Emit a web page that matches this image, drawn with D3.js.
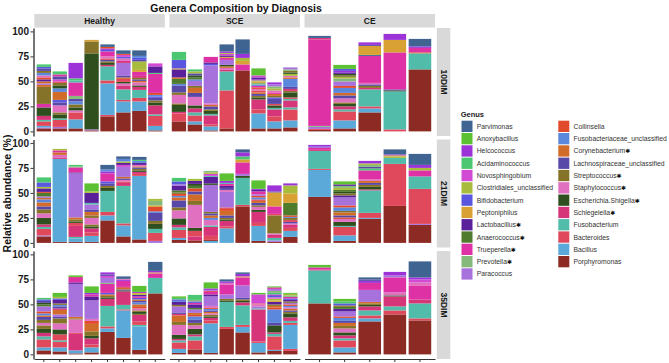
<!DOCTYPE html>
<html>
<head>
<meta charset="utf-8">
<script src="https://cdn.jsdelivr.net/npm/d3@7"></script>
<style>
body { margin: 0; background: #fff; }
text { font-family: "Liberation Sans", Arial, sans-serif; }
</style>
</head>
<body>
<div id="chart"></div>
<script>
// Genus keys, legend labels and fills (legend order = stack order top to bottom)
const genusKeys = ['Parv','Anox','Helc','Acid','Novo','Clos','Bifi','Pept','Lact','Anae','True','Prev','Para',
    'Coll','Fuun','Cory','Lach','Stre','Stap','Esch','Schl','Fuso','Bact','Bacl','Porp'];
const genusLabels = ['Parvimonas','Anoxybacillus','Helcococcus','Acidaminococcus','Novosphingobium',
    'Clostridiales_unclassified','Bifidobacterium','Peptoniphilus','Lactobacillus*','Anaerococcus*',
    'Trueperella*','Prevotella*','Paracoccus','Collinsella','Fusobacteriaceae_unclassified',
    'Corynebacterium*','Lachnospiraceae_unclassified','Streptococcus*','Staphylococcus*',
    'Escherichia.Shigella*','Schlegelella*','Fusobacterium','Bacteroides','Bacillus','Porphyromonas'];
const genusColors = ['#3f6491','#5cc033','#9b33d9','#4cc771','#d24ad3','#a9bb3c','#5b56e0','#d9a133',
    '#5a1f9b','#4f7b2d','#df31a6','#84b97a','#a872dc','#e14b2b','#5b87dc','#d06b29','#5849a8',
    '#857329','#e071c1','#2f4f1f','#d73579','#51bcaa','#e0495b','#5aa9d9','#8c2b23'];

const diagnoses = ['Healthy', 'SCE', 'CE'];
const timepoints = ['10DIM', '21DIM', '35DIM'];

// Each bar: list of [genus, relative abundance %], bottom to top
const healthy10 = [
    [['Porp',3],['Para',1],['Bacl',1.5],['Bact',4.5],['Fuso',1.5],['Schl',4],['Esch',8.5],['True',3.5],['Stre',17],['Cory',2],['Para',1.5],['Cory',2],['Lact',2],['Coll',2],['Stap',2],['Fuun',2.5],['Stre',2],['Lach',2.5],['Bifi',1.5],['Acid',2.5]],
    [['Porp',3],['Para',1.5],['Bact',7],['Fuso',1.5],['Esch',4],['Stre',2],['Stap',7],['Lach',3],['Bifi',2.5],['Cory',8],['Fuun',3.5],['Esch',3],['Stre',2.5],['Bact',1.5],['Novo',2],['Lach',3],['True',2],['Acid',3]],
    [['Porp',3],['Bacl',9],['Bact',7],['Stap',2],['Esch',3],['Stre',3],['Fuun',3],['Lach',2.5],['Prev',3],['True',13.5],['Fuso',2],['Acid',2],['Helc',15.5]],
    [['Porp',1],['Para',1],['Esch',76],['Stre',12],['Pept',1.5]],
    [['Porp',15],['Bact',1.5],['Bacl',31.5],['Bact',3],['Fuso',14],['Schl',1.5],['Esch',2],['Stre',1.5],['Lach',1.5],['Bact',1.5],['Stap',2],['True',5],['Bifi',1.5],['Helc',1.5],['Coll',1.5],['Parv',2.5]],
    [['Porp',19],['Bacl',11],['Bact',1.5],['Fuso',10.5],['Schl',4],['Stap',2],['Esch',1.5],['Bact',3],['Cory',1.5],['Lach',1.5],['Para',13],['Schl',2],['Stap',2.5],['Bifi',1.5],['Novo',2],['Coll',1],['Parv',3.5]],
    [['Porp',20.5],['Bacl',9.5],['Bact',3.5],['Fuso',8],['Schl',3],['Esch',1.5],['Stap',3],['Cory',1.5],['Lach',1.5],['Stre',1.5],['Schl',2],['True',4],['Pept',2],['Clos',8.5],['Lach',1.5],['Bifi',2],['Fuun',2],['Parv',5.5]],
    [['Porp',1],['Bacl',4.5],['Bact',10],['Fuso',1.5],['Schl',9],['Esch',3],['Stre',2],['Lach',2.5],['Bifi',1.5],['Fuun',1.5],['Coll',2],['True',19],['Acid',1],['Lact',6.5],['Novo',3]]
];
const sce10 = [
    [['Porp',10],['Bact',8],['Schl',1.5],['Esch',7],['Stre',1.5],['Stap',8.5],['Stre',2.5],['Lach',7],['Fuun',1.5],['Anae',5],['Cory',1.5],['Lact',8],['Pept',1],['Bifi',8.5],['Acid',8]],
    [['Porp',7],['Bacl',3],['Bact',6],['Fuso',3],['Schl',4],['Esch',3],['Stap',8.5],['Lach',4],['Cory',5],['Stre',2],['Para',5],['Fuun',1.5],['Anae',2],['Esch',2],['Lach',2],['Clos',2],['Acid',2]],
    [['Porp',1],['Bacl',4],['Bact',2],['Schl',9],['Fuso',1.5],['Esch',3],['Stre',1.5],['Lach',3],['Cory',1.5],['Stap',1.5],['Para',38],['Bifi',1.5],['Lact',1.5],['True',5.5]],
    [['Porp',3],['Bact',38],['Fuso',19],['Schl',1.5],['Stap',2],['Cory',1.5],['Esch',1.5],['Para',5],['True',2],['Pept',1],['Lact',1.5],['Novo',1.5],['Clos',1],['Helc',1.5],['Parv',7]],
    [['Porp',61],['True',6],['Pept',3.5],['Clos',3],['Helc',4],['Parv',14.5]],
    [['Porp',3],['Bacl',15],['Bact',4],['Schl',10],['Esch',2],['Stre',1.5],['Lach',2],['Cory',1.5],['Bact',2],['Stap',1.5],['Coll',1.5],['True',1.5],['Fuun',1.5],['Prev',1.5],['Pept',1.5],['Clos',1],['Helc',1],['Lact',2],['Novo',2],['Anox',7]],
    [['Porp',3],['Bacl',7],['Bact',5],['Schl',7],['Fuso',1.5],['Esch',2.5],['Bact',1.5],['Lach',5],['Bifi',1.5],['Stre',1.5],['Cory',2],['True',1.5],['Stap',2],['Clos',2],['Prev',2],['Para',2],['Helc',2]],
    [['Porp',4],['Bacl',7],['Bact',11],['Fuso',2],['Schl',7],['Fuso',1.5],['Bact',1.5],['Esch',5],['Stre',1.5],['Schl',2],['Lach',2],['Fuun',8],['Cory',1.5],['Stap',1.5],['Clos',2],['Esch',1.5],['Stre',1.5],['Prev',1.5],['Para',2]]
];
const ce10 = [
    [['Porp',1.5],['Bact',1],['Para',2],['Prev',1],['True',86.5],['Schl',1.5],['Parv',2]],
    [['Porp',3],['Bacl',8],['Bact',9],['Fuso',2],['Schl',3],['Esch',2.5],['Stre',1.5],['Stap',4],['Lach',3],['Cory',2.5],['Fuun',5],['Coll',2],['Para',4.5],['Prev',3],['Clos',1.5],['Stre',1.5],['Esch',1.5],['Lact',1.5],['Helc',1.5],['Bifi',2],['Anox',4]],
    [['Porp',19],['Bacl',4],['Bact',2],['Fuso',17],['Schl',1.5],['Stre',2],['Lach',1.5],['Stap',1.5],['True',27],['Parv',1],['Pept',9],['Lach',1],['Helc',2.5]],
    [['Bact',2],['Fuso',38],['Esch',1],['Lach',1],['True',37],['Pept',12.5],['Helc',6]],
    [['Porp',62],['Fuso',16],['Cory',1],['True',4.5],['Helc',1.5],['Parv',7.5]]
];
const healthy21 = [
    [['Porp',6.5],['Para',1],['Bact',6.5],['Fuso',2],['Schl',2.5],['Esch',6.5],['Stap',4.5],['Stre',4],['Lach',3],['Cory',4],['Fuun',3],['Cory',1.5],['Para',1.5],['Anae',3.5],['Coll',1],['Lact',3.5],['Clos',1.5],['Bifi',4.5],['Acid',5]],
    [['Porp',1],['Bacl',83],['Schl',1.5],['Stap',2.5],['Cory',2.5],['True',2],['Clos',1.5]],
    [['Porp',1],['Bacl',3.5],['Fuso',1.5],['Schl',11],['Bact',3],['Esch',1.5],['Stre',2],['Cory',2],['Para',44],['Lact',1],['True',5],['Prev',1],['Acid',1.5]],
    [['Porp',1],['Bacl',6],['Bact',3.5],['Schl',4],['Esch',2],['Stre',2],['Stap',6.5],['Stre',2.5],['Cory',3.5],['Lach',2.5],['Para',5],['Fuso',1.5],['Lact',10],['Clos',1.5],['Anox',8]],
    [['Porp',22.5],['Bacl',5],['Bact',3.5],['Fuso',21],['Esch',3],['Stre',2],['Lach',2.5],['Bifi',2],['True',8],['Helc',2],['Fuun',2],['Parv',4.5]],
    [['Porp',6.5],['Bacl',11],['Bact',2],['Fuso',37.5],['Schl',3],['Bact',1.5],['Stap',1.5],['Lach',1.5],['Cory',1.5],['Para',10],['Novo',2],['Lact',2],['Clos',1.5],['Fuun',2.5],['Parv',2.5]],
    [['Porp',3.5],['Bacl',63.5],['Bact',2],['Schl',2],['Esch',1.5],['Stre',1.5],['Lach',1.5],['Cory',1],['Stap',1.5],['Lact',2],['Fuun',2],['Acid',1],['Parv',3]],
    [['Para',2],['Bact',8],['Fuso',4],['Esch',5],['Stre',3],['Lach',8],['Fuun',1.5],['Coll',4.5],['Pept',1.5],['Prev',4.5],['Clos',2]]
];
const sce21 = [
    [['Porp',3],['Bacl',2],['Bact',8],['Fuso',2.5],['Schl',2.5],['Esch',6.5],['Stap',8],['Stre',3],['Lach',7],['Cory',3],['Fuun',1.5],['Coll',2],['Stre',1.5],['Anae',2],['Lact',4.5],['Para',1.5],['Bifi',3],['Acid',3.5]],
    [['Porp',2.5],['Schl',4],['Bact',5.5],['Esch',3],['Stap',23],['Stre',4],['Cory',6.5],['Lach',3],['Coll',3],['Anae',2.5],['Esch',2],['Lact',3],['Clos',2]],
    [['Bacl',2],['Porp',1],['Bact',4],['Schl',9],['Fuso',1.5],['Stap',5.5],['Fuun',2],['Cory',2.5],['Lach',2],['Stre',1.5],['Para',27],['Esch',1.5],['Lact',6.5],['Fuso',1],['Novo',2],['Clos',1.5],['Prev',1.5]],
    [['Bacl',14.5],['Bact',2],['Schl',5.5],['Esch',1.5],['Stre',1.5],['Lach',2.5],['Cory',4.5],['Coll',2],['Bact',1.5],['Para',15.5],['Stap',2],['Lach',2],['Lact',2],['True',2],['Fuso',1],['Helc',2],['Anox',7.5]],
    [['Porp',36.5],['Bact',1.5],['Fuso',27],['Esch',2],['Para',2],['True',11.5],['Pept',3],['Acid',3],['Helc',4],['Parv',3]],
    [['Porp',2],['Bacl',15],['Bact',3],['Schl',11],['Esch',2],['Stap',3],['Stre',1.5],['Lach',2.5],['Cory',2],['Bact',1.5],['Fuun',2],['Coll',1.5],['Para',1.5],['True',3],['Lact',1.5],['Helc',1],['Anox',8.5]],
    [['Porp',1],['Para',1.5],['Fuso',2.5],['Schl',3],['Stap',1.5],['Stre',18],['Bact',1.5],['True',7.5],['Pept',14],['Lach',1],['Helc',6]],
    [['Porp',6],['Bacl',6],['Bact',3],['Schl',3],['Stap',1.5],['Lach',1.5],['Bact',2],['Stre',2],['Fuun',1],['Coll',1.5],['Anae',12.5],['Pept',9.5],['Clos',8],['Helc',2]]
];
const ce21 = [
    [['Porp',46],['Bacl',27],['Bact',1],['Fuso',18],['Schl',1],['True',2.5],['Bifi',1],['Helc',1.5]],
    [['Porp',2],['Bacl',5.5],['Bact',8.5],['Fuso',1],['Esch',4],['Stap',3],['Coll',1.5],['Lach',2],['Cory',3],['Stre',1.5],['Fuun',3.5],['Coll',2],['Para',8],['Lact',2],['Stre',2],['Esch',1.5],['Anae',2],['Clos',2],['Prev',2],['Lact',1.5],['Anox',3]],
    [['Porp',24],['Bacl',1],['Bact',5],['Fuso',22.5],['Schl',1],['Esch',2.5],['Stre',2],['Lach',2],['Cory',2],['Stap',1.5],['True',9],['Acid',2],['Lach',1.5],['Prev',2],['Clos',1.5],['Helc',2.5]],
    [['Porp',37],['Bact',42],['Fuso',6],['Clos',1.5],['Pept',1],['Helc',1],['Parv',5]],
    [['Porp',18],['Para',1],['Bact',35],['Fuso',12.5],['True',6],['Clos',2.5],['Helc',3],['Parv',11]]
];
const healthy35 = [
    [['Porp',4],['Bacl',3],['Bact',8],['Fuso',3],['Schl',3.5],['Esch',4],['Stre',3.5],['Stap',2.5],['Stre',3],['Lach',3],['Cory',1.5],['Fuun',2],['Coll',2],['Para',5],['Anae',2],['Esch',1.5],['Lach',2],['Bifi',1.5],['Acid',1.5]],
    [['Porp',3],['Bacl',4],['Bact',5.5],['Fuso',1.5],['Bact',6],['Esch',5],['Stap',6],['Stre',5],['Lach',1.5],['Para',2.5],['Cory',4.5],['Schl',1.5],['Lach',2],['Fuun',1.5],['Stre',1.5],['Lact',3.5],['Bifi',1.5],['Clos',1.5],['Anox',4]],
    [['Porp',1],['Bacl',3],['Schl',16.5],['Bact',1],['Stap',13.5],['Stre',1],['Cory',1.5],['Para',33],['Lact',1.5],['True',4.5],['Schl',1],['Anox',1.5]],
    [['Porp',2],['Bacl',5],['Bact',3],['Schl',6],['Esch',2.5],['Stre',4.5],['Cory',7.5],['Coll',3],['Stap',2],['Para',18.5],['Lact',4],['True',2],['Helc',1.5],['Anox',6.5]],
    [['Porp',22.5],['Bacl',3.5],['Bact',2],['Fuso',20.5],['Schl',7],['Esch',1.5],['Stre',1.5],['Cory',1.5],['Bifi',1.5],['True',9],['Prev',1],['Para',5],['Novo',2],['Lach',1.5],['Helc',2]],
    [['Porp',16.5],['Bacl',27.5],['Bact',1],['Fuso',4.5],['Schl',13.5],['Esch',1],['Lach',1],['Cory',1.5],['Bact',1],['True',6],['Helc',1],['Stap',1],['Parv',2.5]],
    [['Porp',4.5],['Bacl',23.5],['Fuso',1.5],['Bact',3.5],['Schl',6.5],['Stre',1],['Esch',2],['Stre',1.5],['Stap',2],['Coll',1.5],['Cory',2.5],['Fuun',2],['Lach',1.5],['Cory',1.5],['Bifi',1.5],['True',1.5],['Lact',1.5],['Clos',1],['Pept',1],['Helc',1],['Anox',6]],
    [['Porp',61],['Fuso',15.5],['True',4.5],['Pept',1],['Helc',1.5],['Parv',9]]
];
const sce35 = [
    [['Porp',1.5],['Bacl',4],['Bact',6.5],['Fuso',2],['Schl',1.5],['Esch',4],['Stap',10],['Stre',3],['Cory',6.5],['Schl',1.5],['Lach',1.5],['Para',6],['Stre',1.5],['Lact',3],['Fuun',1],['Bifi',1.5],['Acid',1.5],['Anox',1.5]],
    [['Porp',5],['Bact',9],['Fuso',4],['Schl',2],['Esch',5.5],['Stap',3.5],['Stre',2.5],['Lach',3],['Fuun',3.5],['Coll',1.5],['Cory',2],['Para',3.5],['Anae',1.5],['Lact',3.5],['True',1.5],['Bifi',1.5],['Prev',1.5],['Acid',5]],
    [['Porp',1.5],['Bacl',29.5],['Bact',3],['Schl',2.5],['Esch',1.5],['Stre',1.5],['Stap',1.5],['Cory',1.5],['Lach',1.5],['Fuun',1.5],['Coll',1],['Stap',2],['Para',9.5],['Lact',2],['True',2.5],['Bact',1],['Para',1],['Helc',1.5],['Anox',6]],
    [['Porp',25.5],['Bact',2],['Fuso',25],['Esch',1.5],['Stre',1.5],['Para',4.5],['True',9.5],['Stap',2],['Helc',1.5],['Parv',2]],
    [['Porp',22],['Bacl',5.5],['Bact',2],['Fuso',19.5],['Schl',3],['Esch',1.5],['Stre',1.5],['Lach',1.5],['Para',12.5],['True',8],['Pept',1],['Helc',2.5],['Parv',1.5]],
    [['Porp',2],['Bacl',9.5],['Bact',1.5],['Schl',32],['Fuso',1],['Para',2],['Stap',2],['Bact',1],['Novo',9],['Anox',1.5]],
    [['Porp',3.5],['Bacl',1],['Bact',13.5],['Fuso',2.5],['Schl',1.5],['Esch',7],['Lach',2.5],['Fuun',13.5],['Coll',2],['Cory',1.5],['Stre',1.5],['Lact',2.5],['Pept',1.5],['Clos',1.5],['Stap',1.5],['Bifi',1.5],['Helc',1.5],['Acid',1.5],['Prev',2],['Para',2],['True',1.5],['Anox',1]],
    [['Porp',3.5],['Bact',2],['Bacl',24],['Bact',2],['Fuso',2],['Schl',3.5],['Esch',4],['Stre',1.5],['Lach',1.5],['Cory',1.5],['Stap',1.5],['Fuun',1.5],['Coll',1.5],['Para',1.5],['Stre',1.5],['Lact',1.5],['Bifi',1.5],['True',1.5],['Prev',1.5],['Clos',1.5],['Anox',1]]
];
const ce35 = [
    [['Porp',51],['Fuso',33],['Schl',1],['True',2],['Anox',2.5]],
    [['Porp',2],['Bacl',5],['Bact',7],['Fuso',2],['Schl',3],['Esch',3],['Stap',4],['Stre',2.5],['Cory',3],['Lach',2],['Fuun',3],['Coll',1.5],['Para',5],['Lact',2.5],['Anae',2],['Stre',1.5],['Bifi',2],['Acid',2],['Anox',2.5]],
    [['Porp',33],['Bacl',3],['Bact',3],['Fuso',5],['Schl',4],['Esch',1.5],['Stre',1.5],['Cory',1.5],['Para',12],['True',7],['Helc',2],['Lach',1.5],['Parv',2]],
    [['Porp',40],['Bact',4],['Fuso',4],['Schl',10],['Esch',1],['Stap',3],['True',15],['Para',2],['Helc',3.5]],
    [['Porp',34],['Bact',2],['Fuso',15],['Schl',4],['True',14],['Stap',3],['Novo',3],['Helc',2],['Parv',16]]
];

const panelBars = [
    [healthy10, sce10, ce10],
    [healthy21, sce21, ce21],
    [healthy35, sce35, ce35]
];

const WIDTH = 669;
const HEIGHT = 363;
const PANEL_LEFT = 34.3;
const PANEL_W = 130.5;
const PANEL_GAP = 4.6;
const PANEL_TOP = 28;
const PANEL_H = 108;
const ROW_GAP = 3.5;
const STRIP = 13.5;

const color = d3.scaleOrdinal().domain(genusKeys).range(genusColors);

const svg = d3.select('#chart')
    .append('svg')
    .attr('width', WIDTH)
    .attr('height', HEIGHT);

// Title
svg.append('text')
    .attr('x', 236)
    .attr('y', 12)
    .attr('text-anchor', 'middle')
    .attr('font-size', 10.5)
    .attr('font-weight', 'bold')
    .attr('fill', '#111')
    .text('Genera Composition by Diagnosis');

// Y title
svg.append('text')
    .attr('transform', `translate(11, ${PANEL_TOP + (3 * PANEL_H + 2 * ROW_GAP) / 2}) rotate(-90)`)
    .attr('text-anchor', 'middle')
    .attr('font-size', 10.5)
    .attr('font-weight', 'bold')
    .attr('fill', '#111')
    .text('Relative abundance (%)');

const colLeft = c => PANEL_LEFT + c * (PANEL_W + PANEL_GAP);
const rowTop = r => PANEL_TOP + r * (PANEL_H + ROW_GAP);

// x scales per diagnosis column (free x)
const xScales = diagnoses.map((d, c) => d3.scaleBand()
    .domain(d3.range(panelBars[0][c].length).map(i => d + i))
    .range([colLeft(c), colLeft(c) + PANEL_W])
    .paddingInner(0.1)
    .paddingOuter(0.15));

// Top strips
diagnoses.forEach((d, c) => {
    svg.append('rect')
        .attr('x', colLeft(c)).attr('y', PANEL_TOP - STRIP - 0.5)
        .attr('width', PANEL_W).attr('height', STRIP)
        .attr('fill', '#d9d9d9');
    svg.append('text')
        .attr('x', colLeft(c) + PANEL_W / 2)
        .attr('y', PANEL_TOP - STRIP / 2 + 2.5)
        .attr('text-anchor', 'middle')
        .attr('font-size', 8.5)
        .attr('font-weight', 'bold')
        .attr('fill', '#1a1a1a')
        .text(d);
});

const stripX = colLeft(2) + PANEL_W + 1.8;

timepoints.forEach((t, r) => {
    const top = rowTop(r);
    const yScale = d3.scaleLinear()
        .domain([-4.6, 103.4])
        .range([top + PANEL_H, top]);

    // Right strip
    svg.append('rect')
        .attr('x', stripX).attr('y', top)
        .attr('width', STRIP).attr('height', PANEL_H)
        .attr('fill', '#d9d9d9');
    svg.append('text')
        .attr('transform', `translate(${stripX + STRIP / 2 - 3}, ${top + PANEL_H / 2}) rotate(90)`)
        .attr('text-anchor', 'middle')
        .attr('font-size', 8.5)
        .attr('font-weight', 'bold')
        .attr('fill', '#1a1a1a')
        .text(t);

    // Stacked bars
    diagnoses.forEach((d, c) => {
        const xScale = xScales[c];
        const bars = panelBars[r][c];
        const segs = [];
        bars.forEach((bar, i) => {
            let y0 = 0;
            bar.forEach(([g, v]) => {
                segs.push({ id: d + i, g: g, y0: y0, y1: y0 + v });
                y0 += v;
            });
        });
        svg.append('g')
            .selectAll('rect')
            .data(segs)
            .enter()
            .append('rect')
            .attr('x', s => xScale(s.id))
            .attr('width', xScale.bandwidth())
            .attr('y', s => yScale(s.y1))
            .attr('height', s => yScale(s.y0) - yScale(s.y1))
            .attr('fill', s => color(s.g));

        if (r === timepoints.length - 1) {
            const xAxis = d3.axisBottom(xScale)
                .tickSize(3)
                .tickSizeOuter(0)
                .tickFormat('');
            const gx = svg.append('g')
                .attr('transform', `translate(0, ${top + PANEL_H})`)
                .call(xAxis);
            gx.select('.domain').attr('stroke', '#333').attr('stroke-width', 1.2);
            gx.selectAll('.tick line').attr('stroke', '#333');
        }
    });

    // Y axis
    const yAxis = d3.axisLeft(yScale)
        .tickValues([0, 25, 50, 75, 100])
        .tickSize(3)
        .tickSizeOuter(0);
    const gy = svg.append('g')
        .attr('transform', `translate(${PANEL_LEFT - 0.8}, 0)`)
        .call(yAxis);
    gy.select('.domain').attr('stroke', '#666').attr('stroke-width', 1.8);
    gy.selectAll('.tick line').attr('stroke', '#333');
    gy.selectAll('.tick text')
        .attr('font-family', '"Liberation Sans", Arial, sans-serif')
        .attr('font-size', 10)
        .attr('font-weight', 'bold')
        .attr('fill', '#1a1a1a')
        .attr('x', -4.5);
});

// Legend
const LEG_X = 461.5;
const LEG_Y = 120.7;
const LEG_STEP = 12.3;
const LEG_COL = 96.8;
const half = 13;

svg.append('text')
    .attr('x', LEG_X - 0.8)
    .attr('y', 116.5)
    .attr('font-size', 7.5)
    .attr('font-weight', 'bold')
    .attr('fill', '#1a1a1a')
    .text('Genus');

const legend = svg.append('g')
    .selectAll('g')
    .data(genusKeys)
    .enter()
    .append('g')
    .attr('transform', (k, i) => {
        const col = i < half ? 0 : 1;
        const row = i < half ? i : i - half;
        return `translate(${LEG_X + col * LEG_COL}, ${LEG_Y + row * LEG_STEP})`;
    });

legend.append('rect')
    .attr('width', 11)
    .attr('height', 11.3)
    .attr('fill', k => color(k));

legend.append('text')
    .attr('x', 15.2)
    .attr('y', 8.2)
    .attr('font-size', 6.8)
    .attr('fill', '#333')
    .each(function(k, i) {
        const label = genusLabels[i];
        const starred = label.endsWith('*');
        const t = d3.select(this);
        t.append('tspan').text(starred ? label.slice(0, -1) : label);
        if (starred) {
            t.append('tspan')
                .attr('font-family', '"DejaVu Sans", sans-serif')
                .attr('font-size', 6)
                .attr('fill', '#111')
                .text('\u2731');
        }
    });
</script>
</body>
</html>
